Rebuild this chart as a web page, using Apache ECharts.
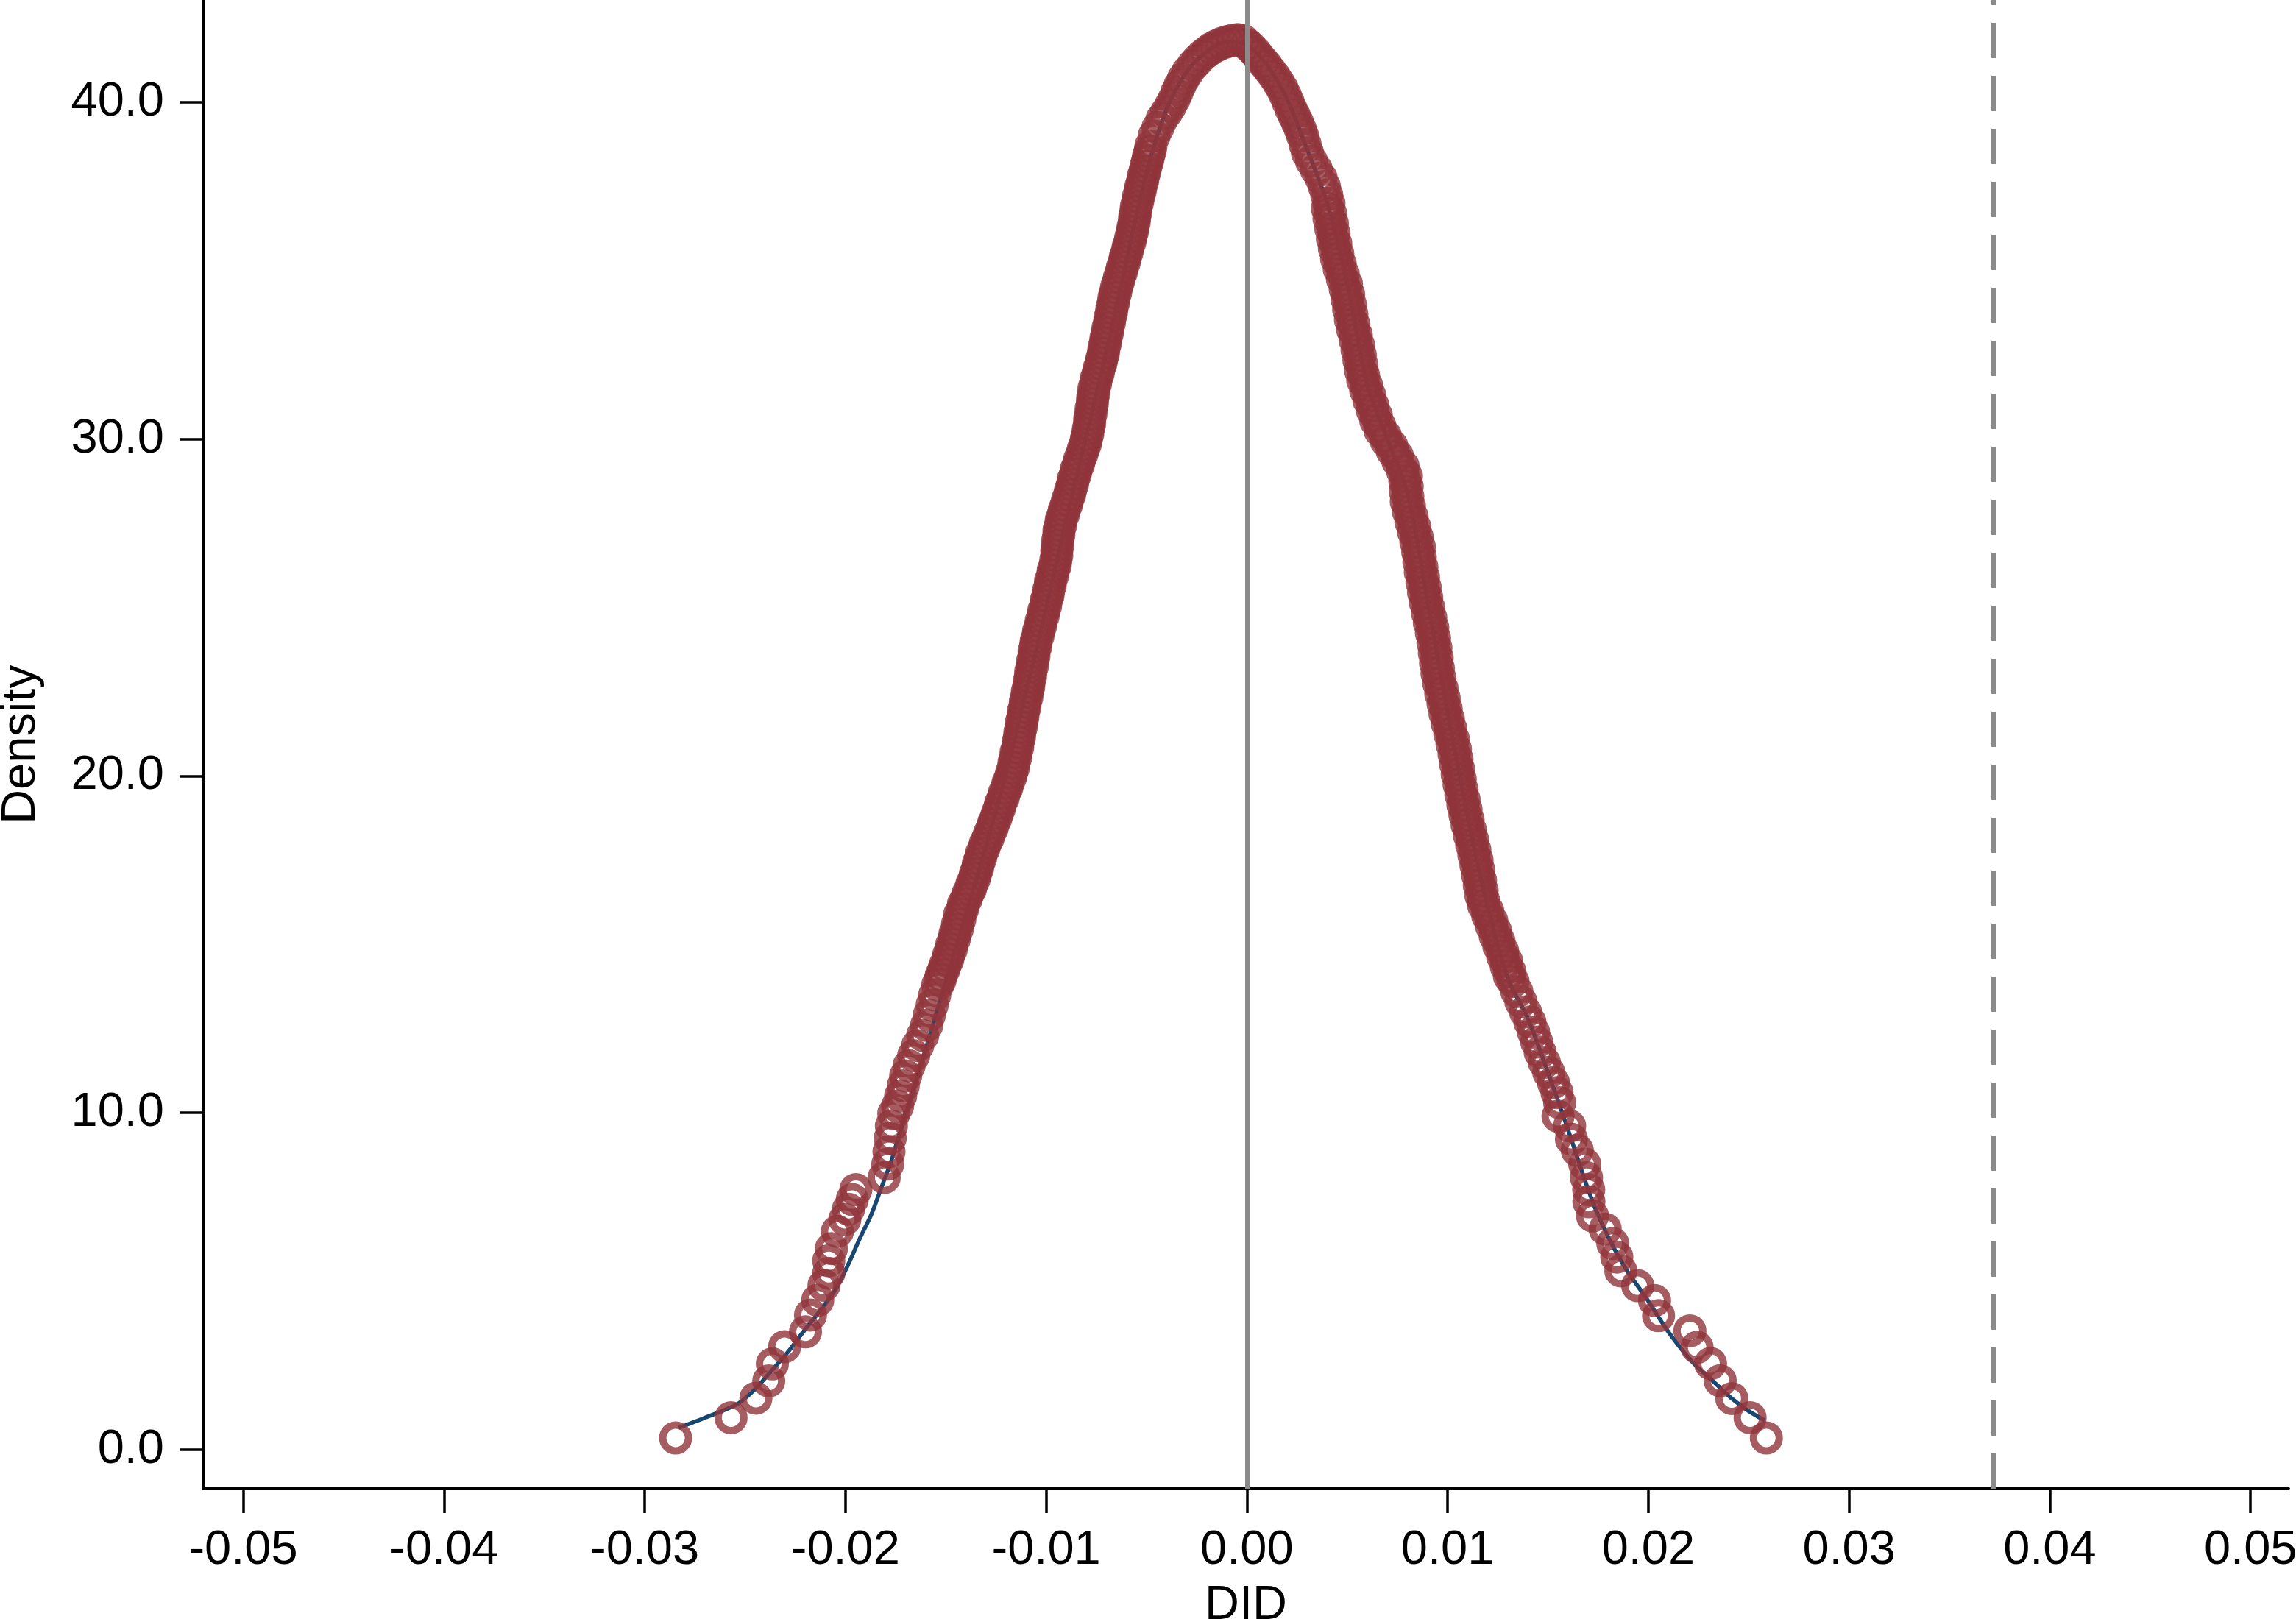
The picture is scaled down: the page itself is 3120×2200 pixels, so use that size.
<!DOCTYPE html>
<html>
<head>
<meta charset="utf-8">
<title>Placebo DID density</title>
<script src="https://cdn.jsdelivr.net/npm/echarts@6/dist/echarts.min.js"></script>
<style>
  html, body { margin: 0; padding: 0; background: #fff; }
  #chart { width: 3120px; height: 2200px; }
</style>
</head>
<body>
<div id="chart"></div>
<script>
// tick values
var xTicks = [-0.05, -0.04, -0.03, -0.02, -0.01, 0, 0.01, 0.02, 0.03, 0.04, 0.05]
var yTicks = [0, 10, 20, 30, 40]

// reference lines: zero and the actual DID estimate
var zeroLine = 0
var actualDid = 0.0372

// smooth density curve (blue)
var kdensity = [
  [-0.0283, 0.65], [-0.0270, 0.95], [-0.0254, 1.35], [-0.0245, 1.80], [-0.0236, 2.40],
  [-0.0228, 2.95], [-0.0221, 3.50], [-0.0213, 4.10], [-0.0205, 4.75], [-0.0199, 5.45],
  [-0.0193, 6.25], [-0.0187, 7.00], [-0.0182, 7.80], [-0.0177, 8.60], [-0.0173, 9.40],
  [-0.0166, 10.7], [-0.0160, 11.9], [-0.0150, 13.9], [-0.0140, 15.9], [-0.0130, 17.9],
  [-0.0120, 20.1], [-0.0110, 22.5], [-0.0100, 25.0], [-0.0090, 27.6], [-0.0080, 30.1],
  [-0.0070, 32.6], [-0.0060, 35.3], [-0.0050, 37.9], [-0.0040, 39.8], [-0.0030, 40.9],
  [-0.0020, 41.5], [-0.0010, 41.8], [0.0000, 41.7], [0.0010, 41.1], [0.0020, 40.1],
  [0.0030, 38.6], [0.0040, 37.0], [0.0050, 34.6], [0.0060, 31.6], [0.0070, 30.0],
  [0.0080, 28.4], [0.0090, 25.2], [0.0100, 21.9], [0.0110, 18.8], [0.0120, 16.1],
  [0.0130, 14.0], [0.0140, 12.8], [0.0150, 11.2], [0.0160, 9.50], [0.0169, 7.90],
  [0.0174, 7.10], [0.0181, 6.20], [0.0189, 5.35], [0.0199, 4.50], [0.0210, 3.50],
  [0.0222, 2.60], [0.0232, 2.05], [0.0241, 1.55], [0.0250, 1.15], [0.0258, 0.87]
]

// placebo estimates and their density (red circles)
var placebo = [
  // left tail
  [-0.02846, 0.35], [-0.02570, 0.95], [-0.02446, 1.53], [-0.02382, 2.04], [-0.02364, 2.55],
  [-0.02303, 3.06], [-0.02199, 3.50], [-0.02174, 4.00], [-0.02138, 4.44], [-0.02107, 4.88],
  [-0.02083, 5.24], [-0.02083, 5.61], [-0.02070, 5.97], [-0.02040, 6.48], [-0.02003, 6.84],
  [-0.01985, 7.14], [-0.01966, 7.43], [-0.01948, 7.72], [-0.01807, 8.08], [-0.01789, 8.48],
  [-0.01783, 8.85], [-0.01777, 9.25], [-0.01771, 9.61], [-0.01759, 9.98],
  // left side
  [-0.01740, 10.2], [-0.01725, 10.5], [-0.01712, 10.8], [-0.01700, 11.1], [-0.01683, 11.4],
  [-0.01660, 11.7], [-0.01640, 12.0], [-0.01615, 12.3], [-0.01595, 12.6], [-0.01582, 12.9],
  [-0.01568, 13.2], [-0.01555, 13.5], [-0.01540, 13.8], [-0.01522, 14.1], [-0.01502, 14.4],
  [-0.01485, 14.7], [-0.01470, 15.0], [-0.01455, 15.3], [-0.01442, 15.6], [-0.01430, 15.9],
  [-0.01412, 16.2], [-0.01390, 16.5], [-0.01370, 16.8], [-0.01352, 17.1], [-0.01338, 17.4],
  [-0.01322, 17.7], [-0.01303, 18.0], [-0.01282, 18.3], [-0.01262, 18.6], [-0.01243, 18.9],
  [-0.01226, 19.2], [-0.01208, 19.5], [-0.01190, 19.8], [-0.01172, 20.1], [-0.01160, 20.4],
  [-0.01150, 20.7], [-0.01140, 21.0], [-0.01131, 21.3], [-0.01123, 21.6], [-0.01114, 21.9],
  [-0.01104, 22.2], [-0.01094, 22.5], [-0.01085, 22.8], [-0.01077, 23.1], [-0.01068, 23.4],
  [-0.01060, 23.7], [-0.01050, 24.0], [-0.01038, 24.3], [-0.01025, 24.6], [-0.01012, 24.9],
  [-0.01000, 25.2], [-0.00988, 25.5], [-0.00978, 25.8], [-0.00965, 26.1], [-0.00952, 26.4],
  [-0.00947, 26.7], [-0.00942, 27.0], [-0.00936, 27.3], [-0.00925, 27.6], [-0.00910, 27.9],
  [-0.00893, 28.2], [-0.00878, 28.5], [-0.00865, 28.8], [-0.00850, 29.1], [-0.00833, 29.4],
  [-0.00815, 29.7], [-0.00800, 30.0], [-0.00790, 30.3], [-0.00783, 30.6], [-0.00776, 30.9],
  [-0.00769, 31.2], [-0.00762, 31.5], [-0.00750, 31.8], [-0.00736, 32.1], [-0.00722, 32.4],
  [-0.00712, 32.7], [-0.00702, 33.0], [-0.00692, 33.3], [-0.00682, 33.6], [-0.00672, 33.9],
  [-0.00662, 34.2], [-0.00650, 34.5], [-0.00635, 34.8], [-0.00620, 35.1], [-0.00606, 35.4],
  [-0.00592, 35.7], [-0.00578, 36.0], [-0.00567, 36.3], [-0.00559, 36.6], [-0.00551, 36.9],
  [-0.00540, 37.2], [-0.00528, 37.5], [-0.00516, 37.8], [-0.00503, 38.1], [-0.00490, 38.4],
  [-0.00478, 38.7],
  // peak
  [-0.00462, 39.0], [-0.00443, 39.25], [-0.00423, 39.5], [-0.00400, 39.7], [-0.00380, 39.9],
  [-0.00362, 40.1], [-0.00348, 40.3], [-0.00333, 40.5], [-0.00316, 40.7], [-0.00294, 40.9],
  [-0.00268, 41.1], [-0.00245, 41.25], [-0.00220, 41.4], [-0.00198, 41.5], [-0.00176, 41.6],
  [-0.00150, 41.68], [-0.00124, 41.75], [-0.00098, 41.8], [-0.00072, 41.84], [-0.00046, 41.86],
  [-0.00020, 41.84], [0.00002, 41.72], [0.00020, 41.62], [0.00040, 41.50], [0.00058, 41.36],
  [0.00078, 41.22], [0.00098, 41.08], [0.00118, 40.92], [0.00138, 40.76], [0.00158, 40.58],
  [0.00176, 40.40], [0.00192, 40.20], [0.00206, 40.00], [0.00220, 39.80], [0.00236, 39.60],
  [0.00252, 39.40], [0.00266, 39.20], [0.00278, 39.00], [0.00290, 38.75], [0.00302, 38.50],
  [0.00322, 38.25], [0.00346, 38.00], [0.00370, 37.75], [0.00386, 37.50], [0.00398, 37.25],
  // right side
  [0.00409, 37.0], [0.00417, 36.7], [0.00426, 36.4], [0.00434, 36.1], [0.00443, 35.8],
  [0.00453, 35.5], [0.00465, 35.2], [0.00480, 34.9], [0.00496, 34.6], [0.00507, 34.3],
  [0.00515, 34.0], [0.00523, 33.7], [0.00533, 33.4], [0.00545, 33.1], [0.00556, 32.8],
  [0.00565, 32.5], [0.00573, 32.2], [0.00581, 31.9], [0.00596, 31.6], [0.00612, 31.3],
  [0.00628, 31.0], [0.00645, 30.7], [0.00662, 30.4], [0.00690, 30.1], [0.00722, 29.8],
  [0.00750, 29.5], [0.00778, 29.2], [0.00795, 28.9], [0.00799, 28.6], [0.00802, 28.3],
  [0.00810, 28.0], [0.00823, 27.7], [0.00836, 27.4], [0.00848, 27.1], [0.00859, 26.8],
  [0.00864, 26.5], [0.00872, 26.2], [0.00880, 25.9], [0.00888, 25.6], [0.00896, 25.3],
  [0.00906, 25.0], [0.00916, 24.7], [0.00926, 24.4], [0.00935, 24.1], [0.00942, 23.8],
  [0.00948, 23.5], [0.00954, 23.2], [0.00962, 22.9], [0.00972, 22.6], [0.00983, 22.3],
  [0.00993, 22.0], [0.01004, 21.7], [0.01016, 21.4], [0.01028, 21.1], [0.01039, 20.8],
  [0.01047, 20.5], [0.01055, 20.2], [0.01063, 19.9], [0.01072, 19.6], [0.01082, 19.3],
  [0.01092, 19.0], [0.01102, 18.7], [0.01113, 18.4], [0.01125, 18.1], [0.01136, 17.8],
  [0.01147, 17.5], [0.01156, 17.2], [0.01164, 16.9], [0.01172, 16.6], [0.01180, 16.3],
  [0.01200, 16.0], [0.01220, 15.7], [0.01239, 15.4], [0.01256, 15.1], [0.01274, 14.8],
  [0.01294, 14.5], [0.01310, 14.2], [0.01326, 13.9], [0.01345, 13.6], [0.01365, 13.3],
  [0.01388, 13.0], [0.01410, 12.7], [0.01428, 12.4], [0.01444, 12.1], [0.01461, 11.8],
  [0.01482, 11.5], [0.01504, 11.2], [0.01527, 10.9], [0.01545, 10.6], [0.01558, 10.3],
  // right tail
  [0.01550, 9.90], [0.01608, 9.61], [0.01617, 9.22], [0.01646, 8.89], [0.01683, 8.48],
  [0.01692, 8.08], [0.01703, 7.72], [0.01704, 7.36], [0.01722, 6.94], [0.01785, 6.55],
  [0.01823, 6.12], [0.01843, 5.72], [0.01863, 5.31], [0.01947, 4.87], [0.02031, 4.43],
  [0.02051, 3.98], [0.02207, 3.53], [0.02243, 3.04], [0.02310, 2.56], [0.02358, 2.05],
  [0.02416, 1.52], [0.02507, 0.95], [0.02588, 0.35]
]

// second column of estimates where the band is crowded (its visible width)
var placeboSpread = [
  // left side
  [-0.01528, 13.95], [-0.01510, 14.25], [-0.01490, 14.55], [-0.01473, 14.85], [-0.01458, 15.15],
  [-0.01443, 15.45], [-0.01430, 15.75], [-0.01416, 16.05], [-0.01398, 16.35], [-0.01377, 16.65],
  [-0.01358, 16.95], [-0.01342, 17.25], [-0.01327, 17.55], [-0.01310, 17.85], [-0.01290, 18.15],
  [-0.01269, 18.45], [-0.01250, 18.75], [-0.01232, 19.05], [-0.01214, 19.35], [-0.01196, 19.65],
  [-0.01178, 19.95], [-0.01163, 20.25], [-0.01152, 20.55], [-0.01142, 20.85], [-0.01133, 21.15],
  [-0.01124, 21.45], [-0.01116, 21.75], [-0.01106, 22.05], [-0.01096, 22.35], [-0.01087, 22.65],
  [-0.01078, 22.95], [-0.01069, 23.25], [-0.01061, 23.55], [-0.01052, 23.85], [-0.01041, 24.15],
  [-0.01028, 24.45], [-0.01015, 24.75], [-0.01003, 25.05], [-0.00991, 25.35], [-0.00980, 25.65],
  [-0.00968, 25.95], [-0.00955, 26.25], [-0.00947, 26.55], [-0.00942, 26.85], [-0.00937, 27.15],
  [-0.00928, 27.45], [-0.00915, 27.75], [-0.00899, 28.05], [-0.00883, 28.35], [-0.00869, 28.65],
  [-0.00855, 28.95], [-0.00839, 29.25], [-0.00822, 29.55], [-0.00805, 29.85], [-0.00793, 30.15],
  [-0.00784, 30.45], [-0.00777, 30.75], [-0.00770, 31.05], [-0.00763, 31.35], [-0.00754, 31.65],
  [-0.00741, 31.95], [-0.00727, 32.25], [-0.00715, 32.55], [-0.00705, 32.85], [-0.00695, 33.15],
  [-0.00685, 33.45], [-0.00675, 33.75], [-0.00665, 34.05], [-0.00654, 34.35], [-0.00641, 34.65],
  [-0.00626, 34.95], [-0.00611, 35.25], [-0.00597, 35.55], [-0.00583, 35.85], [-0.00571, 36.15],
  [-0.00561, 36.45], [-0.00553, 36.75], [-0.00544, 37.05], [-0.00532, 37.35], [-0.00520, 37.65],
  [-0.00508, 37.95], [-0.00495, 38.25], [-0.00482, 38.55],
  // right side
  [0.00401, 36.85], [0.00409, 36.55], [0.00418, 36.25], [0.00426, 35.95], [0.00436, 35.65],
  [0.00447, 35.35], [0.00460, 35.05], [0.00476, 34.75], [0.00490, 34.45], [0.00499, 34.15],
  [0.00507, 33.85], [0.00516, 33.55], [0.00527, 33.25], [0.00539, 32.95], [0.00549, 32.65],
  [0.00558, 32.35], [0.00566, 32.05], [0.00577, 31.75], [0.00592, 31.45], [0.00608, 31.15],
  [0.00625, 30.85], [0.00642, 30.55], [0.00664, 30.25], [0.00694, 29.95], [0.00724, 29.65],
  [0.00752, 29.35], [0.00776, 29.05], [0.00787, 28.75], [0.00789, 28.45], [0.00794, 28.15],
  [0.00805, 27.85], [0.00817, 27.55], [0.00830, 27.25], [0.00842, 26.95], [0.00851, 26.65],
  [0.00857, 26.35], [0.00864, 26.05], [0.00872, 25.75], [0.00880, 25.45], [0.00889, 25.15],
  [0.00899, 24.85], [0.00909, 24.55], [0.00919, 24.25], [0.00927, 23.95], [0.00934, 23.65],
  [0.00940, 23.35], [0.00947, 23.05], [0.00956, 22.75], [0.00966, 22.45], [0.00977, 22.15],
  [0.00987, 21.85], [0.00999, 21.55], [0.01011, 21.25], [0.01022, 20.95], [0.01032, 20.65],
  [0.01040, 20.35], [0.01048, 20.05], [0.01057, 19.75], [0.01066, 19.45], [0.01076, 19.15],
  [0.01086, 18.85], [0.01097, 18.55], [0.01108, 18.25], [0.01120, 17.95], [0.01131, 17.65],
  [0.01141, 17.35], [0.01150, 17.05], [0.01158, 16.75], [0.01166, 16.45], [0.01180, 16.15],
  [0.01200, 15.85], [0.01219, 15.55], [0.01237, 15.25], [0.01255, 14.95], [0.01274, 14.65],
  [0.01292, 14.35], [0.01308, 14.05]
]

var fontFamily = '"Liberation Sans", Arial, Helvetica, sans-serif'

var chart = echarts.init(document.getElementById('chart'))

chart.setOption({
  animation: false,
  backgroundColor: '#ffffff',
  textStyle: { fontFamily: fontFamily },
  grid: {
    left: 276,
    right: 10,
    top: 0,
    bottom: 177,
    containLabel: false,
    outerBoundsMode: 'none'
  },
  xAxis: {
    type: 'value',
    min: -0.052,
    max: 0.0519,
    name: 'DID',
    nameLocation: 'middle',
    nameGap: 127,
    nameTextStyle: { fontSize: 65, color: '#000', fontFamily: fontFamily },
    axisLine: { onZero: false, lineStyle: { color: '#000', width: 4 } },
    axisTick: {
      customValues: xTicks,
      length: 33,
      lineStyle: { color: '#000', width: 3.5 }
    },
    axisLabel: {
      customValues: xTicks,
      fontSize: 65,
      color: '#000',
      margin: 52,
      fontFamily: fontFamily,
      formatter: function (v) { return v.toFixed(2) }
    },
    splitLine: { show: false }
  },
  yAxis: {
    type: 'value',
    min: -1.158,
    max: 43.036,
    name: 'Density',
    nameLocation: 'middle',
    nameGap: 214,
    nameTextStyle: { fontSize: 65, color: '#000', fontFamily: fontFamily },
    axisLine: { onZero: false, lineStyle: { color: '#000', width: 4 } },
    axisTick: {
      customValues: yTicks,
      length: 32,
      lineStyle: { color: '#000', width: 3.5 }
    },
    axisLabel: {
      customValues: yTicks,
      fontSize: 65,
      color: '#000',
      margin: 53,
      fontFamily: fontFamily,
      formatter: function (v) { return v.toFixed(1) }
    },
    splitLine: { show: false }
  },
  series: [
    {
      name: 'kdensity',
      type: 'line',
      data: kdensity,
      showSymbol: false,
      smooth: 0.3,
      silent: true,
      z: 2,
      lineStyle: { color: '#1a476f', width: 5.5 },
      markLine: {
        silent: true,
        precision: 6,
        symbol: ['none', 'none'],
        label: { show: false },
        emphasis: { disabled: true },
        data: [
          { xAxis: zeroLine, lineStyle: { color: '#8a8a8a', width: 6, type: 'solid' } },
          { xAxis: actualDid, lineStyle: { color: '#8a8a8a', width: 6, type: [48, 24] } }
        ]
      }
    },
    {
      name: 'placebo',
      type: 'scatter',
      data: placebo.concat(placeboSpread),
      symbol: 'circle',
      symbolSize: 35,
      silent: true,
      z: 3,
      itemStyle: {
        color: 'rgba(0,0,0,0)',
        borderColor: '#90353b',
        borderWidth: 10
      }
    }
  ]
})
</script>
</body>
</html>
